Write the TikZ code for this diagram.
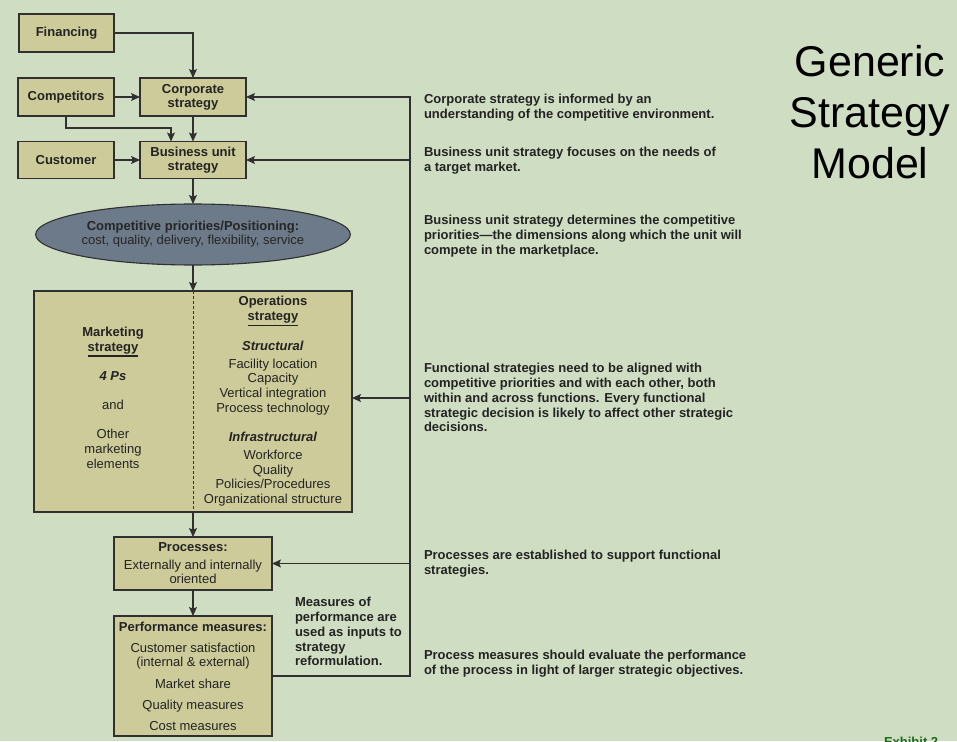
\documentclass[tikz,border=0pt]{standalone}
\usepackage{fontspec}
\setmainfont{Liberation Sans}
\usetikzlibrary{shapes.geometric,arrows.meta}
\definecolor{bg}{RGB}{207,222,194}
\definecolor{boxfill}{RGB}{205,203,153}
\definecolor{ellfill}{RGB}{108,122,137}
\definecolor{linec}{RGB}{48,48,48}
\definecolor{txt}{RGB}{35,35,35}
\definecolor{exhib}{RGB}{25,105,25}
\newcommand\ulbar[1]{{\setbox0=\hbox{#1}\leavevmode\rlap{\rule[-5.3pt]{\wd0}{1.2pt}}\box0}}
\begin{document}
\begin{tikzpicture}[x=1pt,y=-1pt,
  every node/.style={inner sep=0pt,outer sep=0pt,text=txt},
  box/.style={draw=linec,fill=boxfill,line width=1.1pt,align=center},
  bhead/.style={font=\fontsize{13}{14}\selectfont\bfseries},
  body/.style={font=\fontsize{13}{14.6}\selectfont},
  ann/.style={anchor=north west,align=left,font=\fontsize{13}{14.7}\selectfont\bfseries},
  ln/.style={draw=linec,line width=1.1pt},
  arr/.style={ln,-{Stealth[length=9pt,width=8pt,inset=1.8pt]}}
]
\useasboundingbox (0,0) rectangle (957,741);
\clip (0,0) rectangle (957,741);
\fill[bg] (0,0) rectangle (957,741);

% boxes
\node[box,bhead,minimum width=95pt,minimum height=38pt] (fin) at (66.5,33) {Financing};
\node[box,bhead,minimum width=96pt,minimum height=38pt] (comp) at (66,97) {Competitors};
\node[box,bhead,minimum width=106pt,minimum height=38pt] (corp) at (193,97) {Corporate\\strategy};
\node[box,bhead,minimum width=96pt,minimum height=37pt] (cust) at (66,160) {Customer};
\node[box,bhead,minimum width=106pt,minimum height=37pt] (bus) at (193,160) {Business unit\\strategy};
\node[draw=linec,fill=ellfill,line width=1.1pt,ellipse,minimum width=277pt,minimum height=61pt,
      align=center,font=\fontsize{13}{14}\selectfont,text=black!85] (ell) at (193,234.5)
      {\textbf{Competitive priorities/Positioning:}\\cost, quality, delivery, flexibility, service};
\node[box,minimum width=318pt,minimum height=221pt] (big) at (193,401.5) {};
\node[box,body,minimum width=158pt,minimum height=53pt] (proc) at (193,563.5)
      {\textbf{Processes:}\\[2.8pt]Externally and internally\\oriented};
\node[box,body,minimum width=158pt,minimum height=120pt] (perf) at (193,676)
      {\textbf{Performance measures:}\\[6.4pt]Customer satisfaction\\(internal \& external)\\[7pt]Market share\\[6.4pt]Quality measures\\[6.2pt]Cost measures};

% inside the functional strategies box
\draw[ln,dash pattern=on 3pt off 2pt,line width=0.9pt] (big.north) -- (big.south);
\node[body,anchor=north,align=center] (mkt) at (113,327.2)
  {\textbf{Marketing}\\\textbf{\ulbar{strategy}}\\[14.6pt]\textbf{\textit{4 Ps}}\\[14.6pt]and\\[14.6pt]Other\\marketing\\elements};
\node[body,anchor=north,align=center] (ops) at (273,296.5)
  {\textbf{Operations}\\\textbf{\ulbar{strategy}}\\[14.7pt]\textbf{\textit{Structural}}\\[2.7pt]Facility location\\Capacity\\Vertical integration\\Process technology\\[14.8pt]\textbf{\textit{Infrastructural}}\\[3.7pt]Workforce\\Quality\\Policies/Procedures\\Organizational structure};

% connectors
\coordinate (cbend) at (171,128);
\coordinate (fbtop) at (410,97);
\draw[arr] (fin.east) -| (corp.north);
\draw[arr] (comp.east) -- (corp.west);
\draw[arr] (comp.south) |- (cbend) -- (cbend |- bus.north);
\draw[arr] (corp.south) -- (bus.north);
\draw[arr] (cust.east) -- (bus.west);
\draw[arr] (bus.south) -- (ell.north);
\draw[arr] (ell.south) -- (big.north);
\draw[arr] (big.south) -- (proc.north);
\draw[arr] (proc.south) -- (perf.north);
\draw[arr] (perf.east) -| (fbtop) -- (corp.east);
\draw[arr] (fbtop |- bus.east) -- (bus.east);
\draw[arr] (fbtop |- 0,398) -- ([yshift=3.5pt]big.east);
\draw[arr] (fbtop |- proc.east) -- (proc.east);

% annotations
\node[ann] (a1) at (424,94.2) {Corporate strategy is informed by an\\understanding of the competitive environment.};
\node[ann] (a2) at (424,146.9) {Business unit strategy focuses on the needs of\\a target market.};
\node[ann] (a3) at (424,215.2) {Business unit strategy determines the competitive\\priorities---the dimensions along which the unit will\\compete in the marketplace.};
\node[ann] (a4) at (424,363.5) {Functional strategies need to be aligned with\\competitive priorities and with each other, both\\within and across functions. Every functional\\strategic decision is likely to affect other strategic\\decisions.};
\node[ann] (a5) at (424,549.9) {Processes are established to support functional\\strategies.};
\node[ann] (a6) at (424,649.9) {Process measures should evaluate the performance\\of the process in light of larger strategic objectives.};
\node[ann] (meas) at (295,597.5) {Measures of\\performance are\\used as inputs to\\strategy\\reformulation.};

% title
\node[anchor=north,align=center,font=\fontsize{43}{51}\selectfont,text=black] (title) at (870,45) {Generic\\Strategy\\Model};
\node[anchor=north west,font=\fontsize{13}{15}\selectfont\bfseries,text=exhib] (exh) at (884,737.3) {Exhibit 2};
\end{tikzpicture}
\end{document}
